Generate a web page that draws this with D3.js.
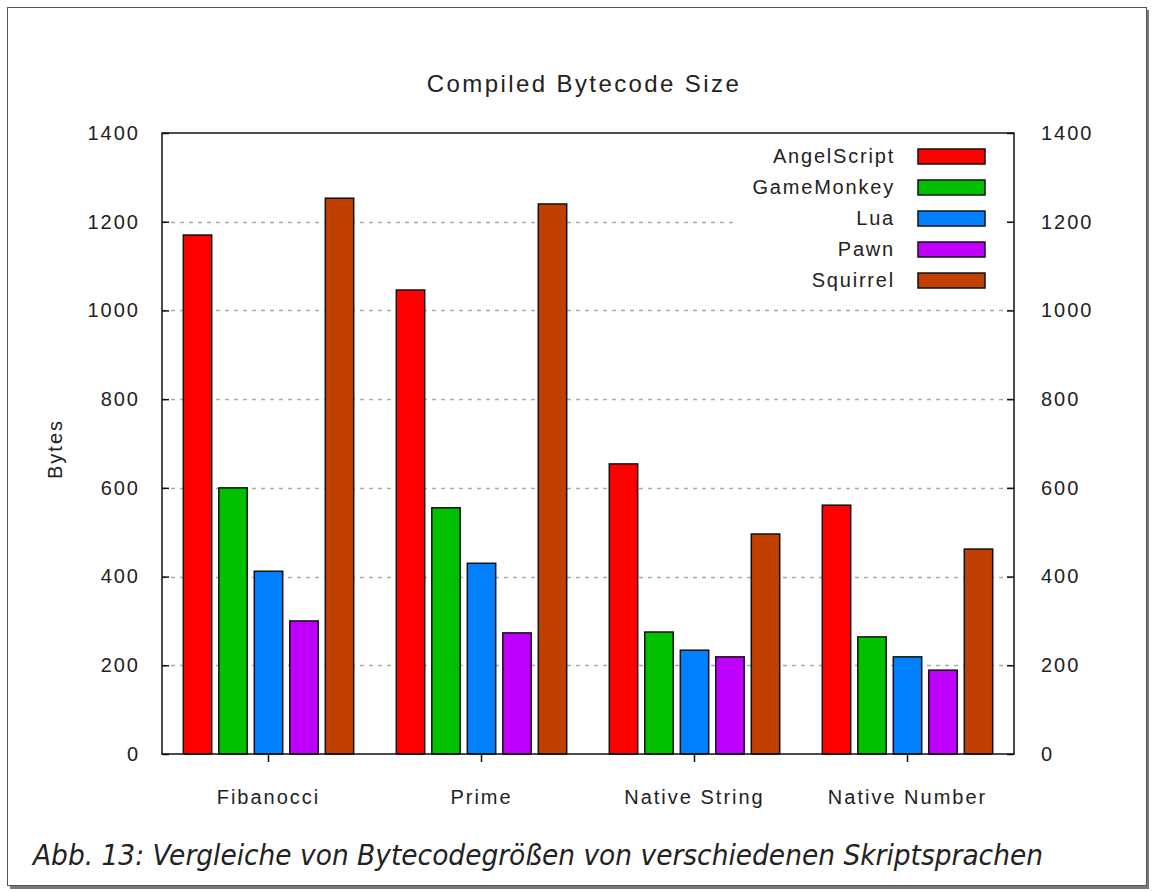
<!DOCTYPE html>
<html>
<head>
<meta charset="utf-8">
<title>Compiled Bytecode Size</title>
<script src="https://cdn.jsdelivr.net/npm/d3@7/dist/d3.min.js"></script>
<style>
  body { margin: 0; background: #fff; }
  svg text { font-family: "Liberation Sans", Arial, sans-serif; fill: #222; }
  .caption { font-family: "DejaVu Sans", sans-serif; font-style: italic; }
</style>
</head>
<body>
<svg width="1154" height="892" id="mainsvg"></svg>
<script>
// data
const categories = ['Fibanocci', 'Prime', 'Native String', 'Native Number'];
const series = ['AngelScript', 'GameMonkey', 'Lua', 'Pawn', 'Squirrel'];
const colors = ['#ff0000', '#00c000', '#0080ff', '#c000ff', '#c04000'];
const angelScript = [1170, 1046, 654, 561];
const gameMonkey = [600, 555, 275, 264];
const lua = [412, 430, 234, 219];
const pawn = [300, 273, 219, 189];
const squirrel = [1253, 1240, 496, 462];
const yTicks = [0, 200, 400, 600, 800, 1000, 1200, 1400];

const values = [angelScript, gameMonkey, lua, pawn, squirrel];
const rows = categories.map((c, i) => ({ cat: c, vals: series.map((s, j) => ({ s: s, v: values[j][i] })) }));

const svg = d3.select('svg');
const margin = { top: 133, right: 140, bottom: 138, left: 162 };
const innerWidth = 1154 - margin.left - margin.right;
const innerHeight = 892 - margin.top - margin.bottom;

// page frame with shadow
svg.append('rect').attr('x', 10).attr('y', 10).attr('width', 1139).attr('height', 879).attr('fill', '#777');
svg.append('rect').attr('x', 7.5).attr('y', 7.5).attr('width', 1139).attr('height', 878)
  .attr('fill', '#fff').attr('stroke', '#555').attr('stroke-width', 1);

const g = svg.append('g').attr('transform', `translate(${margin.left},${margin.top})`);

const x0 = d3.scaleBand().domain(categories).range([0, innerWidth]);
const half = 2.5 * 35.5;
const x1 = d3.scaleBand().domain(series)
  .range([x0.bandwidth() / 2 - half, x0.bandwidth() / 2 + half])
  .paddingInner(0.2).paddingOuter(0.1);
const y = d3.scaleLinear().domain([0, 1400]).range([innerHeight, 0]);
const color = d3.scaleOrdinal().domain(series).range(colors);

// grid lines
g.append('g').selectAll('line').data(yTicks.filter(t => t > 0 && t < 1400)).join('line')
  .attr('x1', 0).attr('x2', innerWidth)
  .attr('y1', d => Math.round(y(d)) + 0.5).attr('y2', d => Math.round(y(d)) + 0.5)
  .attr('stroke', '#aaa').attr('stroke-width', 1.3).attr('stroke-dasharray', '4,5');

// bars
g.append('g').selectAll('g').data(rows).join('g')
  .attr('transform', d => `translate(${x0(d.cat)},0)`)
  .selectAll('rect').data(d => d.vals).join('rect')
  .attr('x', d => x1(d.s)).attr('width', x1.bandwidth())
  .attr('y', d => y(d.v)).attr('height', d => innerHeight - y(d.v))
  .attr('fill', d => color(d.s)).attr('stroke', '#111').attr('stroke-width', 1.5);

// axes
const yLeft = d3.axisLeft(y).tickValues(yTicks).tickSize(-7).tickPadding(22).tickFormat(d3.format('d'));
const yRight = d3.axisRight(y).tickValues(yTicks).tickSize(-7).tickPadding(27).tickFormat(d3.format('d'));
const xAxis = d3.axisBottom(x0).tickSize(8).tickPadding(28);

const gl = g.append('g').call(yLeft);
const gr = g.append('g').attr('transform', `translate(${innerWidth},0)`).call(yRight);
const gx = g.append('g').attr('transform', `translate(0,${innerHeight})`).call(xAxis);
[gl, gr, gx].forEach(a => {
  a.attr('font-size', 20).attr('font-family', '"Liberation Sans", Arial, sans-serif');
  a.select('.domain').remove();
  a.selectAll('line').attr('stroke', '#111').attr('stroke-width', 1.5);
  a.selectAll('text').attr('fill', '#222').style('letter-spacing', '2px');
});

// plot frame
g.append('rect').attr('x', 0).attr('y', 0).attr('width', innerWidth).attr('height', innerHeight)
  .attr('fill', 'none').attr('stroke', '#111').attr('stroke-width', 1.5);

// legend
const legend = g.append('g').attr('transform', 'translate(573,8)');
legend.append('rect').attr('x', 0).attr('y', 0).attr('width', 272).attr('height', 150).attr('fill', '#fff');
const li = legend.selectAll('g.item').data(series).join('g').attr('class', 'item')
  .attr('transform', (d, i) => `translate(0,${i * 31})`);
li.append('text').attr('x', 160).attr('y', 22).attr('text-anchor', 'end')
  .attr('font-size', 20).style('letter-spacing', '1.8px').text(d => d);
li.append('rect').attr('x', 183).attr('y', 8).attr('width', 67).attr('height', 15)
  .attr('fill', d => color(d)).attr('stroke', '#111').attr('stroke-width', 1.5);

// titles
svg.append('text').attr('x', 584).attr('y', 92).attr('text-anchor', 'middle')
  .attr('font-size', 24).style('letter-spacing', '2.4px').text('Compiled Bytecode Size');
svg.append('text').attr('transform', 'translate(62,449) rotate(-90)').attr('text-anchor', 'middle')
  .attr('font-size', 20).style('letter-spacing', '2px').text('Bytes');

// caption
svg.append('text').attr('class', 'caption').attr('x', 33).attr('y', 865)
  .attr('font-size', 28).attr('textLength', 1010).attr('lengthAdjust', 'spacingAndGlyphs')
  .text('Abb. 13: Vergleiche von Bytecodegrößen von verschiedenen Skriptsprachen');
</script>
</body>
</html>
